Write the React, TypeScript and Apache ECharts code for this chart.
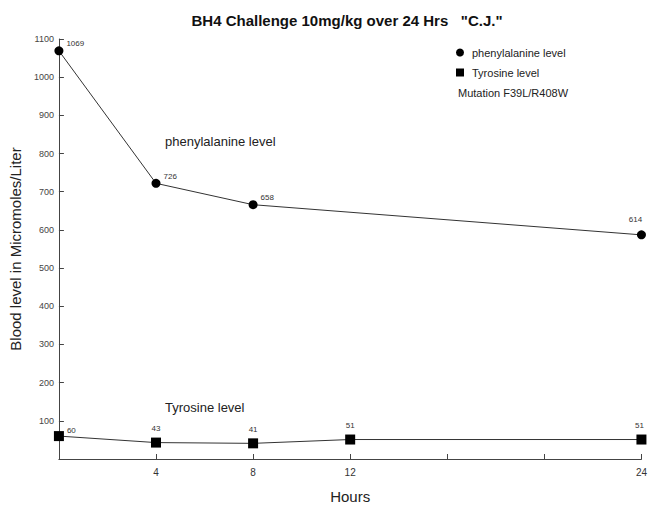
import React, { useEffect, useRef } from "react";
import * as echarts from "echarts";

const titleText = 'BH4 Challenge 10mg/kg over 24 Hrs   "C.J."';
const pheHours = [0, 4, 8, 24];
// plotted positions as drawn in the picture, and the printed value labels
const pheValues = [1069, 722, 666, 587];
const pheLabels = [1069, 726, 658, 614];
const tyrHours = [0, 4, 8, 12, 24];
const tyrValues = [60, 43, 41, 51, 51];
const tyrLabels = [60, 43, 41, 51, 51];
const xLabeled = [4, 8, 12, 24];

const FONT = "'Liberation Sans', Arial, Helvetica, sans-serif";

export default function App() {
  const ref = useRef<HTMLDivElement>(null);
  useEffect(() => {
    if (!ref.current) return;
    const chart = echarts.init(ref.current, null, { renderer: "svg" });
    const lbl = { fontSize: 8, color: "#333", fontFamily: FONT };
    const pheData = pheHours.map((h, i) => {
      const d: any = { value: [h, pheValues[i]], labelText: pheLabels[i] };
      if (i === pheHours.length - 1) {
        d.label = { position: "top", offset: [-6, -2] };
      } else {
        d.label = { position: "right", distance: 3, offset: [0, -7] };
      }
      return d;
    });
    const tyrData = tyrHours.map((h, i) => {
      const d: any = { value: [h, tyrValues[i]], labelText: tyrLabels[i] };
      if (i === 0) d.label = { position: "right", distance: 3, offset: [0, -6] };
      else if (i === tyrHours.length - 1) d.label = { position: "top", offset: [-2, 0] };
      else d.label = { position: "top" };
      return d;
    });
    chart.setOption({
      animation: false,
      backgroundColor: "#fff",
      textStyle: { fontFamily: FONT },
      title: {
        text: titleText,
        left: 342,
        textAlign: "center",
        top: 8,
        textStyle: { fontSize: 15, fontWeight: "bold", color: "#111", fontFamily: FONT },
      },
      legend: {
        orient: "vertical",
        left: 451,
        top: 42,
        itemWidth: 8,
        itemHeight: 8,
        itemGap: 9,
        textStyle: { fontSize: 11, color: "#222", fontFamily: FONT, padding: [0, 0, 0, 3] },
        data: [
          { name: "phenylalanine level", icon: "circle" },
          { name: "Tyrosine level", icon: "rect" },
        ],
      },
      graphic: [
        { type: "text", left: 458, top: 87, style: { text: "Mutation F39L/R408W", fontSize: 11, fill: "#222", fontFamily: FONT } },
        { type: "text", left: 165, top: 135, style: { text: "phenylalanine level", fontSize: 13, fill: "#222", fontFamily: FONT } },
        { type: "text", left: 165, top: 401, style: { text: "Tyrosine level", fontSize: 13, fill: "#222", fontFamily: FONT } },
      ],
      grid: { left: 55, right: 7, top: 39, bottom: 49, containLabel: false },
      xAxis: {
        type: "value",
        min: 0,
        max: 24,
        interval: 4,
        name: "Hours",
        nameLocation: "middle",
        nameGap: 30,
        nameTextStyle: { fontSize: 15, color: "#222", fontFamily: FONT },
        splitLine: { show: false },
        axisLine: { lineStyle: { color: "#444", width: 1 } },
        axisTick: { inside: true, length: 5, lineStyle: { color: "#444" } },
        axisLabel: {
          fontSize: 10,
          color: "#333",
          margin: 8,
          formatter: (v: number) => (xLabeled.includes(v) ? String(v) : ""),
        },
      },
      yAxis: {
        type: "value",
        min: 0,
        max: 1100,
        interval: 100,
        name: "Blood level in Micromoles/Liter",
        nameLocation: "middle",
        nameGap: 29,
        nameTextStyle: { fontSize: 15, color: "#222", fontFamily: FONT },
        splitLine: { show: false },
        axisLine: { show: true, lineStyle: { color: "#444", width: 1 } },
        axisTick: { show: true, inside: true, length: 5, lineStyle: { color: "#444" } },
        axisLabel: {
          fontSize: 9,
          color: "#444",
          margin: 5,
          formatter: (v: number) => (v === 0 ? "" : String(v)),
        },
      },
      series: [
        {
          name: "phenylalanine level",
          type: "line",
          data: pheData,
          symbol: "circle",
          symbolSize: 9,
          clip: false,
          itemStyle: { color: "#000" },
          lineStyle: { color: "#333", width: 1 },
          label: { show: true, ...lbl, formatter: (p: any) => String(p.data.labelText) },
        },
        {
          name: "Tyrosine level",
          type: "line",
          data: tyrData,
          symbol: "rect",
          symbolSize: 10,
          clip: false,
          itemStyle: { color: "#000" },
          lineStyle: { color: "#333", width: 1 },
          label: { show: true, ...lbl, formatter: (p: any) => String(p.data.labelText) },
        },
      ],
    });
    return () => chart.dispose();
  }, []);
  return (
    <div
      ref={ref}
      style={{ width: 650, height: 509, position: "absolute", left: 0, top: 0 }}
    />
  );
}
